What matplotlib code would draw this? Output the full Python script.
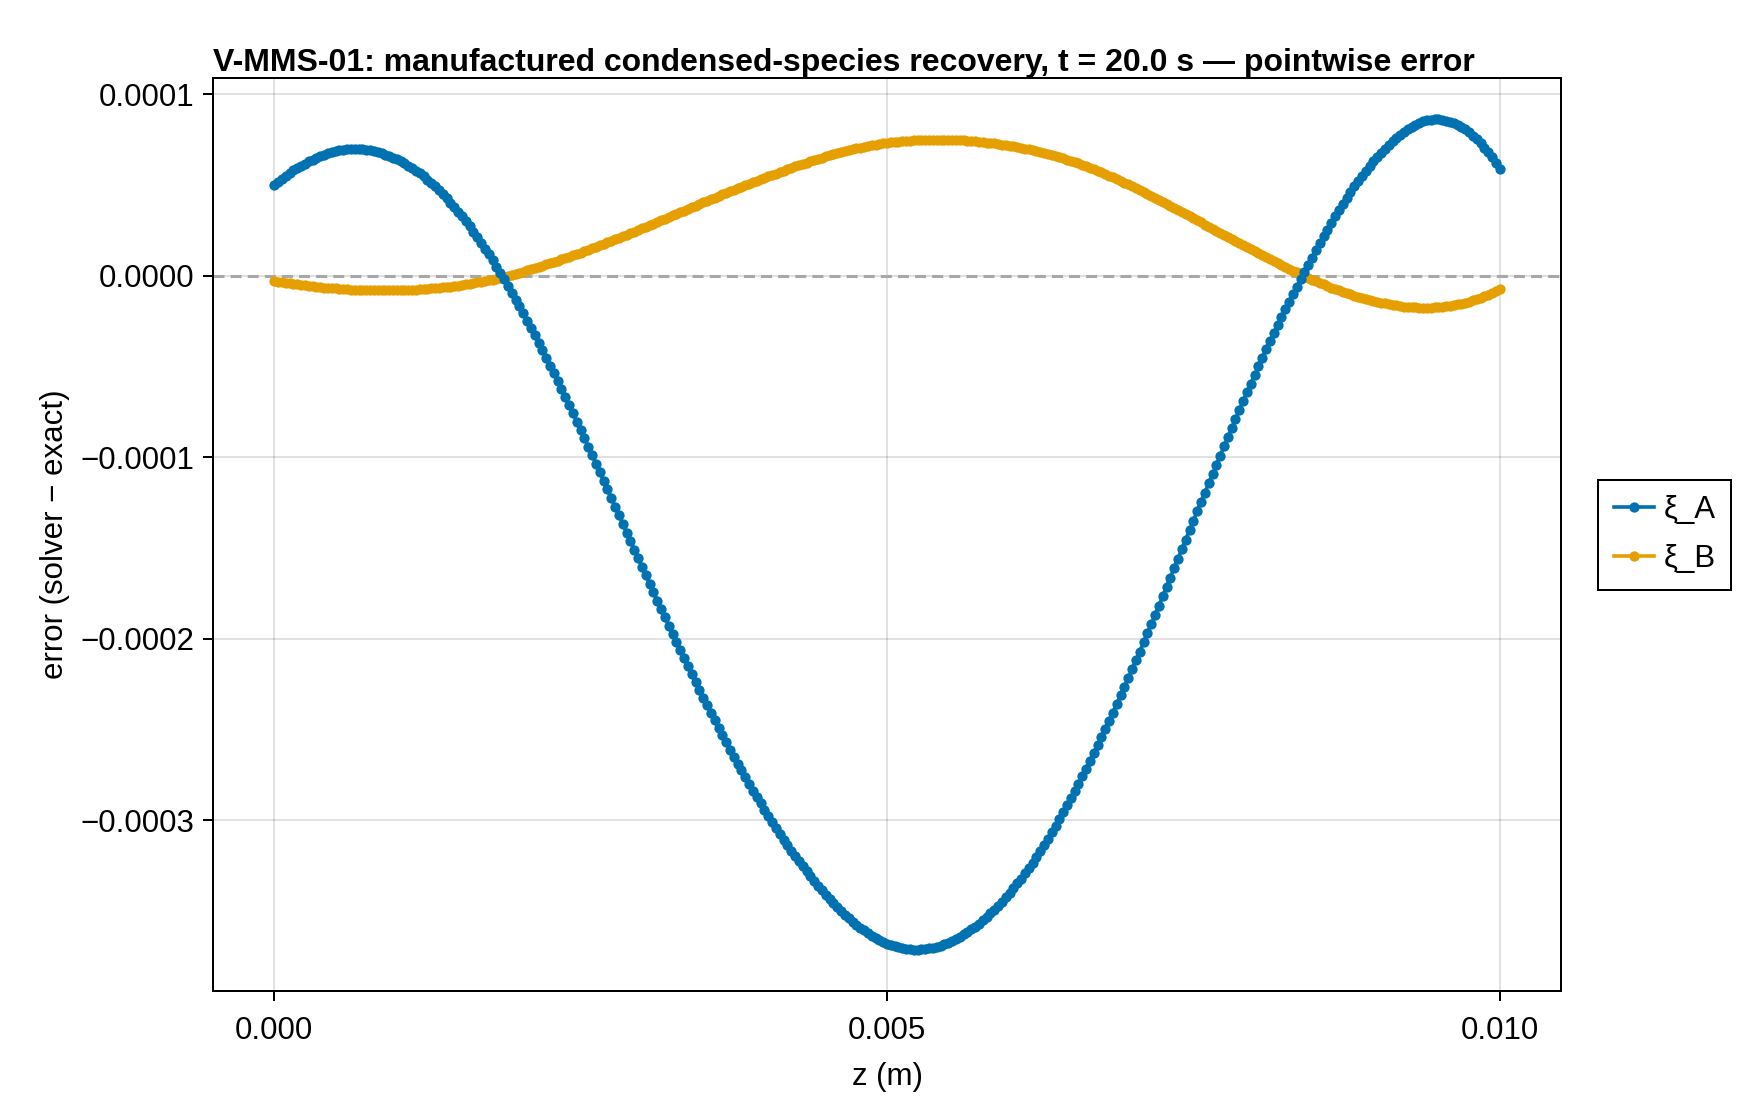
import numpy as np
import matplotlib
matplotlib.use('Agg')
import matplotlib.pyplot as plt
from matplotlib.ticker import FuncFormatter

# pointwise error, in units of 1e-6
# 321 evenly spaced nodes on z = 0 .. 0.01 m
n_nodes = 321
xi_a_micro = [
    50, 51.8, 53.4, 55.0, 56.6, 58.0, 59.4, 60.6, 61.8, 63.0,
    64, 65.0, 65.9, 66.7, 67.5, 68.1, 68.7, 69.1, 69.5, 69.8,
    70, 70.0, 70.0, 69.8, 69.5, 69.2, 68.7, 68.2, 67.6, 66.8,
    66, 65.1, 64.2, 63.1, 61.9, 60.7, 59.3, 57.9, 56.4, 54.7,
    53, 51.1, 49.2, 47.1, 44.9, 42.7, 40.3, 37.9, 35.4, 32.7,
    30, 27.2, 24.2, 21.2, 18.2, 15.0, 11.8, 8.4, 5.0, 1.6,
    -2, -5.6, -9.3, -13.1, -16.9, -20.8, -24.7, -28.7, -32.7, -36.8,
    -41, -45.2, -49.5, -53.8, -58.1, -62.5, -66.9, -71.4, -75.9, -80.4,
    -85, -89.6, -94.3, -98.9, -103.6, -108.3, -113.0, -117.7, -122.5, -127.2,
    -132, -136.7, -141.5, -146.2, -150.9, -155.6, -160.3, -165.0, -169.7, -174.3,
    -179, -183.6, -188.2, -192.8, -197.4, -201.9, -206.4, -210.8, -215.2, -219.6,
    -224, -228.3, -232.6, -236.8, -240.9, -245.1, -249.1, -253.2, -257.2, -261.1,
    -265, -268.8, -272.6, -276.4, -280.1, -283.7, -287.3, -290.8, -294.2, -297.6,
    -301, -304.3, -307.5, -310.7, -313.8, -316.8, -319.8, -322.7, -325.5, -328.3,
    -331, -333.7, -336.2, -338.7, -341.2, -343.5, -345.8, -347.9, -350.0, -352.1,
    -354, -355.9, -357.6, -359.3, -360.8, -362.3, -363.6, -364.9, -366.0, -367.1,
    -368, -368.8, -369.5, -370.1, -370.5, -370.9, -371.1, -371.3, -371.3, -371.2,
    -371, -370.7, -370.2, -369.7, -369.1, -368.3, -367.5, -366.5, -365.4, -364.3,
    -363, -361.7, -360.2, -358.7, -357.0, -355.3, -353.4, -351.4, -349.4, -347.3,
    -345, -342.6, -340.2, -337.6, -334.9, -332.2, -329.3, -326.4, -323.4, -320.2,
    -317, -313.7, -310.2, -306.7, -303.2, -299.5, -295.8, -291.9, -288.0, -284.1,
    -280, -275.9, -271.7, -267.4, -263.1, -258.8, -254.3, -249.8, -245.3, -240.7,
    -236, -231.3, -226.5, -221.7, -216.9, -212.0, -207.1, -202.1, -197.1, -192.1,
    -187, -181.8, -176.7, -171.5, -166.3, -161.1, -155.9, -150.7, -145.5, -140.2,
    -135, -129.8, -124.6, -119.5, -114.4, -109.3, -104.2, -99.1, -94.0, -89.0,
    -84, -79.0, -74.0, -69.1, -64.3, -59.4, -54.7, -49.9, -45.2, -40.6,
    -36, -31.5, -27.2, -22.8, -18.5, -14.3, -10.1, -6.0, -2.0, 2.0,
    6, 10.0, 14.0, 17.9, 21.7, 25.4, 29.1, 32.7, 36.2, 39.6,
    43, 46.2, 49.3, 52.3, 55.1, 57.9, 60.5, 63.1, 65.5, 67.8,
    70, 72.2, 74.2, 76.1, 77.8, 79.4, 80.8, 82.1, 83.2, 84.2,
    85, 85.6, 85.9, 86.1, 86.1, 85.9, 85.5, 84.9, 84.1, 83.2,
    82, 80.6, 79.0, 77.2, 75.2, 73.0, 70.6, 68.0, 65.2, 62.2,
    59,
]
xi_b_micro = [
    -2.8, -3.2, -3.5, -3.8, -4.1, -4.5, -4.7, -5.0, -5.3, -5.6,
    -5.8, -6.0, -6.3, -6.5, -6.7, -6.9, -7.0, -7.2, -7.3, -7.5,
    -7.6, -7.7, -7.8, -7.9, -8.0, -8.0, -8.1, -8.1, -8.1, -8.1,
    -8.1, -8.1, -8.0, -8.0, -7.9, -7.8, -7.7, -7.6, -7.5, -7.4,
    -7.2, -7.0, -6.9, -6.7, -6.4, -6.2, -6.0, -5.7, -5.4, -5.1,
    -4.8, -4.5, -4.1, -3.7, -3.3, -2.9, -2.5, -2.1, -1.6, -1.1,
    -0.6, -0.1, 0.5, 1.1, 1.7, 2.3, 2.9, 3.5, 4.2, 4.8,
    5.5, 6.2, 6.9, 7.6, 8.3, 9.0, 9.7, 10.4, 11.2, 11.9,
    12.7, 13.5, 14.3, 15.1, 15.9, 16.7, 17.5, 18.4, 19.2, 20.0,
    20.9, 21.8, 22.6, 23.5, 24.3, 25.2, 26.1, 26.9, 27.8, 28.7,
    29.6, 30.5, 31.4, 32.3, 33.2, 34.1, 35.0, 35.9, 36.8, 37.7,
    38.6, 39.5, 40.4, 41.3, 42.2, 43.1, 43.9, 44.8, 45.7, 46.5,
    47.4, 48.2, 49.1, 49.9, 50.7, 51.5, 52.3, 53.1, 53.9, 54.7,
    55.5, 56.3, 57.1, 57.9, 58.7, 59.4, 60.2, 60.9, 61.7, 62.4,
    63.1, 63.8, 64.5, 65.1, 65.8, 66.4, 67.0, 67.6, 68.1, 68.7,
    69.2, 69.7, 70.2, 70.6, 71.1, 71.5, 71.9, 72.2, 72.6, 72.9,
    73.2, 73.5, 73.7, 73.9, 74.1, 74.3, 74.5, 74.6, 74.7, 74.8,
    74.9, 75.0, 75.0, 75.0, 75.0, 75.0, 75.0, 74.9, 74.8, 74.7,
    74.6, 74.5, 74.3, 74.1, 73.9, 73.7, 73.4, 73.2, 72.9, 72.6,
    72.3, 72.0, 71.6, 71.3, 70.9, 70.5, 70.1, 69.6, 69.2, 68.7,
    68.2, 67.7, 67.1, 66.5, 66.0, 65.3, 64.7, 64.0, 63.3, 62.6,
    61.9, 61.1, 60.3, 59.5, 58.7, 57.9, 57.0, 56.1, 55.2, 54.3,
    53.3, 52.3, 51.3, 50.4, 49.3, 48.3, 47.3, 46.2, 45.2, 44.1,
    43.0, 41.9, 40.8, 39.7, 38.6, 37.4, 36.3, 35.2, 34.0, 32.9,
    31.7, 30.5, 29.4, 28.2, 27.1, 25.9, 24.8, 23.6, 22.5, 21.3,
    20.2, 19.1, 17.9, 16.8, 15.7, 14.6, 13.5, 12.4, 11.3, 10.2,
    9.1, 8.0, 7.0, 5.9, 4.9, 3.8, 2.8, 1.8, 0.8, -0.1,
    -1.1, -2.1, -3.0, -3.9, -4.8, -5.6, -6.5, -7.3, -8.1, -8.9,
    -9.6, -10.3, -11.0, -11.6, -12.2, -12.8, -13.3, -13.8, -14.3, -14.8,
    -15.2, -15.6, -16.0, -16.4, -16.7, -17.0, -17.2, -17.4, -17.5, -17.6,
    -17.7, -17.7, -17.6, -17.5, -17.4, -17.1, -16.9, -16.6, -16.2, -15.8,
    -15.3, -14.8, -14.2, -13.5, -12.8, -12.1, -11.3, -10.4, -9.5, -8.5,
    -7.5,
]
series_labels = ['ξ_A', 'ξ_B']
x_ticks = [0.0, 0.005, 0.010]
x_ticklabels = ['0.000', '0.005', '0.010']
y_ticks = [-0.0003, -0.0002, -0.0001, 0.0, 0.0001]

z = np.linspace(0.0, 0.010, n_nodes)  # node positions (m)
xi_a = np.array(xi_a_micro) * 1e-6
xi_b = np.array(xi_b_micro) * 1e-6

plt.rcParams['font.family'] = ['Liberation Sans', 'DejaVu Sans']
plt.rcParams['axes.unicode_minus'] = True

fig = plt.figure(figsize=(17.6, 11.2), dpi=100)
ax = fig.add_axes([213 / 1760, 129 / 1120, 1348 / 1760, 913 / 1120])

ax.axhline(0, color='#a8a8a8', lw=2.2, ls=(0, (3.6, 2.0)), zorder=1.5)
ax.plot(z, xi_b, '-o', color='#E69F00', lw=2.6, ms=7.4, mew=0, label=series_labels[1], zorder=3)
ax.plot(z, xi_a, '-o', color='#0072B2', lw=2.6, ms=7.4, mew=0, label=series_labels[0], zorder=4)

ax.set_xticks(x_ticks)
ax.set_xticklabels(x_ticklabels)
ax.set_yticks(y_ticks)
ax.yaxis.set_major_formatter(FuncFormatter(lambda v, p: ('%.4f' % v).replace('-', '\u2212') if abs(v) > 1e-12 else '0.0000'))
ax.margins(x=0.05, y=0.05)

ax.grid(True, color='black', alpha=0.12, lw=1.4)
ax.set_axisbelow(True)
for sp in ax.spines.values():
    sp.set_linewidth(1.44)
ax.tick_params(direction='out', length=7.2, width=1.44, labelsize=22.5)
ax.tick_params(axis='x', pad=11)
ax.tick_params(axis='y', pad=6)

ax.set_xlabel('z (m)', fontsize=22.5, labelpad=11)
ax.set_ylabel('error (solver \u2212 exact)', fontsize=22.5, labelpad=8)
ax.set_title('V-MMS-01: manufactured condensed-species recovery, t = 20.0 s \u2014 pointwise error',
             loc='left', fontsize=23, fontweight='bold', pad=5)

handles, labels = ax.get_legend_handles_labels()
leg = ax.legend(handles[::-1], labels[::-1], loc='center left',
                bbox_to_anchor=(1598 / 1760, 1 - 534.5 / 1120), bbox_transform=fig.transFigure,
                fontsize=22.5, frameon=True, fancybox=False, edgecolor='black', framealpha=1,
                handlelength=1.3, handletextpad=0.3, borderpad=0.5, labelspacing=0.6,
                borderaxespad=0, markerscale=1.0)
leg.get_frame().set_linewidth(1.44)

fig.savefig('out.png', dpi=100)
